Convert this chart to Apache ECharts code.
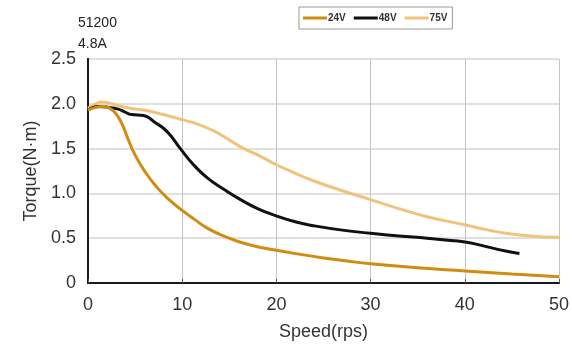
<!DOCTYPE html>
<html>
<head>
<meta charset="utf-8">
<script src="https://cdn.jsdelivr.net/npm/echarts@6/dist/echarts.min.js"></script>
<style>
  html, body { margin: 0; padding: 0; background: #fff; }
  #chart { width: 572px; height: 347px; }
</style>
</head>
<body>
<div id="chart"></div>
<script>
// Torque–speed curves: speed (rps) and torque (N·m)
const speed24 = [0, 0.8, 1.6, 2.3, 2.8, 3.5, 4.2, 4.9, 6.0, 7.3, 8.6, 10, 11.3, 12.7, 14.5, 16.2, 18, 19.7, 22.5, 25, 27.5, 30, 35, 40, 45, 50];
const torque24 = [1.93, 1.96, 1.97, 1.95, 1.91, 1.80, 1.62, 1.45, 1.25, 1.07, 0.93, 0.81, 0.71, 0.61, 0.52, 0.455, 0.405, 0.37, 0.32, 0.28, 0.245, 0.215, 0.17, 0.135, 0.10, 0.07];

const speed48 = [0, 1.1, 2.2, 3.2, 3.9, 4.6, 5.9, 7.0, 8.4, 9.8, 11.2, 12.7, 14.5, 16.2, 18, 19.7, 22.1, 24.2, 27, 30, 33, 36, 38.5, 40.5, 42.5, 44.2, 45.8];
const torque48 = [1.93, 1.97, 1.96, 1.94, 1.91, 1.88, 1.87, 1.80, 1.69, 1.50, 1.32, 1.17, 1.04, 0.93, 0.83, 0.76, 0.68, 0.635, 0.59, 0.555, 0.525, 0.50, 0.475, 0.45, 0.40, 0.36, 0.33];

const speed75 = [0, 0.7, 1.4, 2.2, 3.2, 4.5, 5.9, 8, 10.1, 11.7, 13.3, 14.5, 16.2, 18, 20, 22.1, 24.2, 27, 30, 33, 36, 40, 42.5, 44.7, 47.5, 50];
const torque75 = [1.95, 1.99, 2.02, 2.01, 1.98, 1.95, 1.93, 1.88, 1.82, 1.77, 1.70, 1.63, 1.52, 1.43, 1.32, 1.22, 1.13, 1.03, 0.93, 0.83, 0.74, 0.65, 0.59, 0.55, 0.52, 0.51];

const seriesNames = ['24V', '48V', '75V'];
const yTickLabels = ['0', '0.5', '1.0', '1.5', '2.0', '2.5'];
const xTickLabels = ['0', '10', '20', '30', '40', '50'];
const noteLines = ['51200', '4.8A'];

const pairs = (xs, ys) => xs.map((x, i) => [x, ys[i]]);
const colors = ['#D08C10', '#111111', '#F0C37C'];
const font = 'Liberation Sans, Arial, sans-serif';
const frameLine = { show: true, lineStyle: { color: '#1a1a1a', width: 2 } };

const lineSeries = (i, xs, ys, z) => ({
  name: seriesNames[i], type: 'line', data: pairs(xs, ys),
  smooth: 0.5, showSymbol: false, z: z,
  lineStyle: { color: colors[i], width: 3 }, itemStyle: { color: colors[i] }
});

const chart = echarts.init(document.getElementById('chart'));
chart.setOption({
  animation: false,
  textStyle: { fontFamily: font },
  title: {
    text: noteLines.join('\n'),
    left: 73, top: 8,
    textStyle: { fontSize: 14, fontWeight: 'normal', color: '#222', lineHeight: 21, fontFamily: font }
  },
  legend: {
    data: seriesNames,
    left: 299, top: 7,
    itemWidth: 24, itemHeight: 3, itemGap: 8,
    padding: [6, 5, 6, 4],
    borderColor: '#999', borderWidth: 1,
    icon: 'rect',
    textStyle: { fontSize: 10, fontWeight: 'bold', color: '#333',
      fontFamily: 'Liberation Sans Narrow, Arial Narrow, Liberation Sans, sans-serif', padding: [0, 0, 0, -4] }
  },
  grid: { left: 88, right: 5, top: 59, bottom: 64 },
  xAxis: [{
    type: 'value', min: 0, max: 50, interval: 10,
    name: 'Speed(rps)', nameLocation: 'middle', nameGap: 40,
    nameTextStyle: { fontSize: 18, color: '#333' },
    axisLine: frameLine,
    axisTick: { show: true, inside: true, length: 4, lineStyle: { color: '#555' } },
    axisLabel: { fontSize: 18, color: '#333', margin: 13, formatter: v => xTickLabels[Math.round(v / 10)] },
    splitLine: { show: true, lineStyle: { color: '#c4c4c4', width: 1 } }
  }, {
    type: 'value', position: 'top', min: 0, max: 50, interval: 10,
    axisLine: frameLine, axisTick: { show: false }, axisLabel: { show: false }, splitLine: { show: false }
  }],
  yAxis: [{
    type: 'value', min: 0, max: 2.5, interval: 0.5,
    name: 'Torque(N·m)', nameLocation: 'middle', nameGap: 48,
    nameTextStyle: { fontSize: 18, color: '#333' },
    axisLine: frameLine,
    axisTick: { show: false },
    axisLabel: { fontSize: 18, color: '#333', margin: 12, formatter: v => yTickLabels[Math.round(v / 0.5)] },
    splitLine: { show: true, lineStyle: { color: '#e0e0e0', width: 2 } }
  }, {
    type: 'value', position: 'right', min: 0, max: 2.5, interval: 0.5,
    axisLine: frameLine, axisTick: { show: false }, axisLabel: { show: false }, splitLine: { show: false }
  }],
  series: [
    lineSeries(2, speed75, torque75, 1),
    lineSeries(1, speed48, torque48, 2),
    lineSeries(0, speed24, torque24, 3)
  ]
});
</script>
</body>
</html>
